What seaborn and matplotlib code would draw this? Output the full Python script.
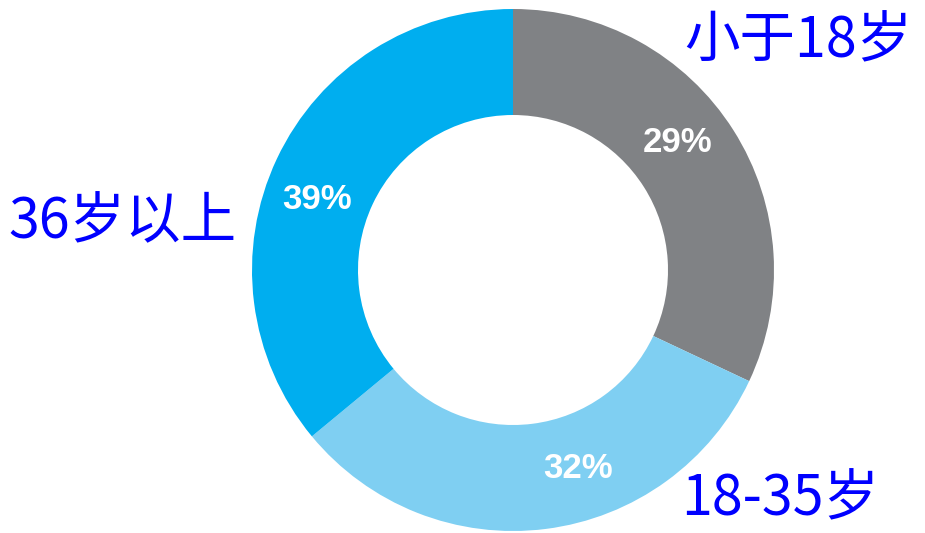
import matplotlib
matplotlib.use('Agg')
import matplotlib.pyplot as plt
import seaborn as sns

# Data
groups = ['小于18岁', '18-35岁', '36岁以上']
pct_labels = [29, 32, 39]          # printed percentages
arc_share = [32, 32, 36]           # share of the ring as it is actually drawn
colors = ['#808285', '#7fcff2', '#00aeef']

sns.set_theme(style='white')
plt.rcParams['font.family'] = ['Noto Sans CJK SC', 'DejaVu Sans']

fig = plt.figure(figsize=(9.25, 5.33), dpi=100)
ax = fig.add_axes([0, 0, 1, 1])

center = (513, 263)
radius = 261
ring = 106

# the ring itself
ax.pie(arc_share, colors=colors, startangle=90, counterclock=False,
       center=center, radius=radius,
       wedgeprops=dict(width=ring, edgecolor='none', linewidth=0))

# percentage labels, placed from the printed values
_, _, pct_texts = ax.pie(pct_labels, colors=['none'] * 3, startangle=90, counterclock=False,
                         center=center, radius=radius, pctdistance=0.8,
                         autopct=lambda p: '%d%%' % round(p),
                         wedgeprops=dict(width=ring, edgecolor='none', linewidth=0))
for t in pct_texts:
    t.set_color('white')
    t.set_fontsize(25)
    t.set_fontweight('bold')
    t.set_family(['Liberation Sans', 'DejaVu Sans'])

ax.set_xlim(0, 925)
ax.set_ylim(0, 533)
ax.set_aspect('equal')
ax.axis('off')

# category labels
label_pos = {'小于18岁': (798, 491), '18-35岁': (780, 33), '36岁以上': (122, 311)}
for g in groups:
    x, y = label_pos[g]
    ax.text(x, y, g, color='#0000ff', fontsize=40, fontweight='normal',
            ha='center', va='center')

fig.savefig('out.png', dpi=100)
